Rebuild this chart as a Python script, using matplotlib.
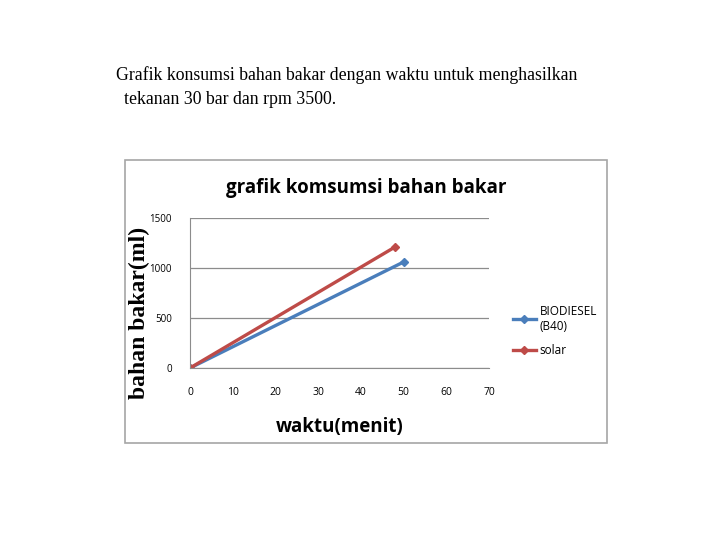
import matplotlib
matplotlib.use('Agg')
import matplotlib.pyplot as plt
from matplotlib.patches import Rectangle

# data
waktu_bio   = [0, 50]
bahan_bio   = [0, 1060]
waktu_solar = [0, 48]
bahan_solar = [0, 1210]
xticks = [0, 10, 20, 30, 40, 50, 60, 70]
yticks = [0, 500, 1000, 1500]

W, H = 720, 540
fig = plt.figure(figsize=(W/100, H/100), dpi=100)

def fx(px): return px/W
def fy(py): return 1 - py/H

# caption
serif = ['Liberation Serif', 'DejaVu Serif']
fig.text(fx(116), fy(75), "Grafik konsumsi bahan bakar dengan waktu untuk menghasilkan",
         family=serif, fontsize=12.8, va='center', ha='left')
fig.text(fx(124), fy(99), "tekanan 30 bar dan rpm 3500.",
         family=serif, fontsize=12.8, va='center', ha='left')

# chart frame
fig.patches.append(Rectangle((fx(125), fy(443)), fx(607)-fx(125), fy(160)-fy(443),
                             transform=fig.transFigure, fill=False,
                             edgecolor='#a6a6a6', linewidth=1.2))

ax = fig.add_axes([fx(190), fy(368), fx(489)-fx(190), fy(218)-fy(368)])
blue, red = '#4a7ebb', '#be4b48'
sargs = dict(marker='D', markersize=4, linewidth=2.4)
ax.plot(waktu_bio, bahan_bio, color=blue, label='BIODIESEL\n(B40)', **sargs)
ax.plot(waktu_solar, bahan_solar, color=red, label='solar', **sargs)

ax.set_xlim(0, 70)
ax.set_ylim(0, 1500)
ax.set_xticks(xticks)
ax.set_yticks(yticks)
ax.grid(axis='y', color='#8c8c8c', linewidth=0.9)
ax.set_axisbelow(True)
for s in ['top', 'right']:
    ax.spines[s].set_visible(False)
for s in ['left', 'bottom']:
    ax.spines[s].set_color('#8c8c8c')
ax.tick_params(length=0, labelsize=7.5)
ax.tick_params(axis='x', pad=14)
ax.tick_params(axis='y', labelsize=7, pad=13)
for lab in ax.get_xticklabels() + ax.get_yticklabels():
    lab.set_family('Open Sans')
ax.set_clip_on(False)

fig.text(fx(366), fy(188), "grafik komsumsi bahan bakar", family='Open Sans',
         fontweight='bold', fontsize=13.5, ha='center', va='center')
fig.text(fx(340), fy(427), "waktu(menit)", family='Open Sans',
         fontweight='bold', fontsize=13.5, ha='center', va='center')
fig.text(fx(139), fy(313), "bahan bakar(ml)", family=serif,
         fontweight='bold', fontsize=17, ha='center', va='center', rotation=90)

ax.legend(loc='center left', bbox_to_anchor=(fx(502), fy(331)),
          bbox_transform=fig.transFigure, frameon=False,
          prop={'family': 'Open Sans', 'size': 8.5}, handlelength=2.0,
          handletextpad=0.3, labelspacing=1.0)

fig.savefig('out.png', dpi=100)
